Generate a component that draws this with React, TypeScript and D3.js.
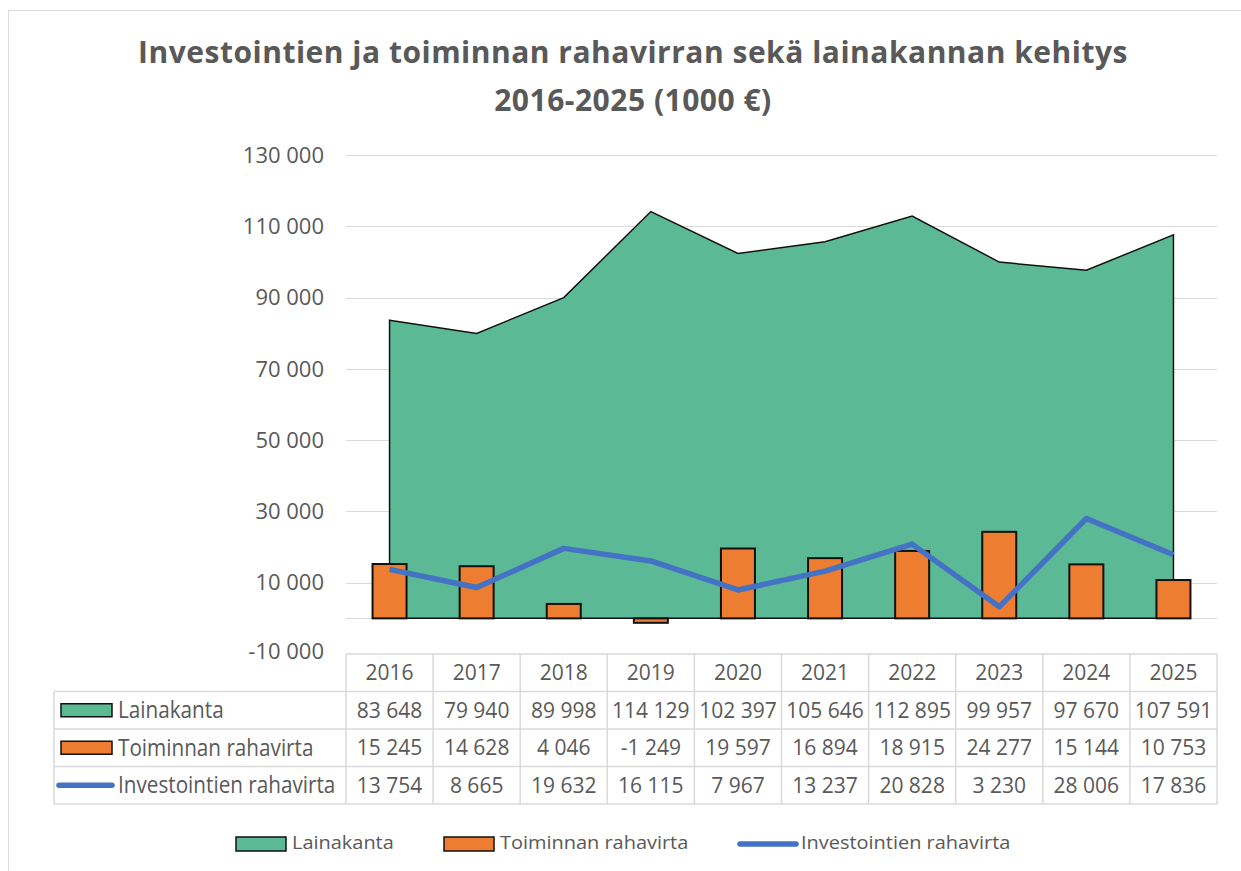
import React, { useEffect, useRef } from "react";
import * as d3 from "d3";

const years = ["2016", "2017", "2018", "2019", "2020", "2021", "2022", "2023", "2024", "2025"];
const lainakanta = [83648, 79940, 89998, 114129, 102397, 105646, 112895, 99957, 97670, 107591];
const toiminnan = [15245, 14628, 4046, -1249, 19597, 16894, 18915, 24277, 15144, 10753];
const investointien = [13754, 8665, 19632, 16115, 7967, 13237, 20828, 3230, 28006, 17836];
const yTicks = [-10000, 10000, 30000, 50000, 70000, 90000, 110000, 130000];
const seriesNames = ["Lainakanta", "Toiminnan rahavirta", "Investointien rahavirta"];
const titleLines = [
  "Investointien ja toiminnan rahavirran sekä lainakannan kehitys",
  "2016-2025 (1000 €)",
];

const GREEN = "#5cb996";
const ORANGE = "#ed7d31";
const BLUE = "#4472c4";
const GRID = "#d9d9d9";
const TEXT = "#595959";
const FONT = "'Open Sans', sans-serif";

const App = () => {
  const svgRef = useRef(null);

  useEffect(() => {
    const svg = d3.select(svgRef.current);
    svg.selectAll("*").remove();

    const left = 346, right = 1217, top = 155, bottom = 654;
    const rowH = 37.5;

    const fmt = d3
      .formatLocale({ decimal: ",", thousands: " ", grouping: [3], currency: ["", ""], minus: "-" })
      .format(",d");

    const x = d3.scaleBand().domain(years).range([left, right]);
    const y = d3.scaleLinear().domain([-10000, 130000]).range([bottom, top]);
    const cx = (d) => x(d) + x.bandwidth() / 2;

    // chart frame
    svg.append("rect")
      .attr("x", 8.5).attr("y", 10.5).attr("width", 1240).attr("height", 870)
      .attr("fill", "white").attr("stroke", GRID);

    // title
    svg.append("g")
      .selectAll("text")
      .data(titleLines)
      .join("text")
      .attr("x", 633)
      .attr("y", (d, i) => 63 + i * 48)
      .attr("text-anchor", "middle")
      .attr("font-family", FONT)
      .attr("font-weight", 700)
      .attr("font-size", 30)
      .attr("letter-spacing", 0.5)
      .attr("fill", TEXT)
      .text((d) => d);

    // gridlines and y labels
    const grid = svg.append("g");
    grid.selectAll("line")
      .data(yTicks.filter((t) => t > -10000))
      .join("line")
      .attr("x1", left).attr("x2", right)
      .attr("y1", (d) => Math.round(y(d)) + 0.5)
      .attr("y2", (d) => Math.round(y(d)) + 0.5)
      .attr("stroke", GRID).attr("stroke-width", 1.2);
    grid.append("line")
      .attr("x1", left).attr("x2", right)
      .attr("y1", Math.round(y(0)) + 0.5).attr("y2", Math.round(y(0)) + 0.5)
      .attr("stroke", GRID).attr("stroke-width", 1.2);
    grid.selectAll("text")
      .data(yTicks)
      .join("text")
      .attr("x", 324)
      .attr("y", (d) => (d === -10000 ? y(d) - 3 : y(d)))
      .attr("dy", "0.35em")
      .attr("text-anchor", "end")
      .attr("font-family", FONT)
      .attr("font-size", 22)
      .attr("fill", TEXT)
      .text((d) => fmt(d));

    // area
    const area = d3.area()
      .x((d, i) => cx(years[i]))
      .y0(y(0))
      .y1((d) => y(d));
    svg.append("path")
      .datum(lainakanta)
      .attr("d", area)
      .attr("fill", GREEN)
      .attr("stroke", "#111")
      .attr("stroke-width", 1.5);

    // bars
    const bw = 34;
    svg.append("g")
      .selectAll("rect")
      .data(toiminnan)
      .join("rect")
      .attr("x", (d, i) => cx(years[i]) - bw / 2)
      .attr("y", (d) => y(Math.max(0, d)))
      .attr("width", bw)
      .attr("height", (d) => Math.abs(y(d) - y(0)))
      .attr("fill", ORANGE)
      .attr("stroke", "#111")
      .attr("stroke-width", 2);

    // line
    const line = d3.line().x((d, i) => cx(years[i])).y((d) => y(d));
    svg.append("path")
      .datum(investointien)
      .attr("d", line)
      .attr("fill", "none")
      .attr("stroke", BLUE)
      .attr("stroke-width", 5.5)
      .attr("stroke-linejoin", "round");

    // data table
    const tbl = svg.append("g").attr("stroke", GRID).attr("stroke-width", 1.5);
    const tableLeft = 54;
    const rowsY = d3.range(5).map((i) => bottom + i * rowH);
    tbl.append("line").attr("x1", left).attr("x2", right).attr("y1", rowsY[0]).attr("y2", rowsY[0]);
    rowsY.slice(1).forEach((ry) => {
      tbl.append("line").attr("x1", tableLeft).attr("x2", right).attr("y1", ry).attr("y2", ry);
    });
    tbl.append("line").attr("x1", tableLeft).attr("x2", tableLeft).attr("y1", rowsY[1]).attr("y2", rowsY[4]);
    [...years.map((d) => x(d)), right].forEach((vx) => {
      tbl.append("line").attr("x1", vx).attr("x2", vx).attr("y1", rowsY[0]).attr("y2", rowsY[4]);
    });

    const cellText = (g, txt, tx, ty) =>
      g.append("text")
        .attr("x", tx).attr("y", ty).attr("dy", "0.35em")
        .attr("text-anchor", "middle")
        .attr("font-family", FONT).attr("font-size", 21).attr("fill", TEXT)
        .text(txt);

    const tg = svg.append("g");
    years.forEach((yr) => cellText(tg, yr, cx(yr), rowsY[0] + rowH / 2));
    [lainakanta, toiminnan, investointien].forEach((vals, r) => {
      vals.forEach((v, i) => cellText(tg, fmt(v), cx(years[i]), rowsY[r + 1] + rowH / 2));
    });

    // legend keys (table + bottom legend)
    const drawKey = (g, idx, kx, ky, w, h) => {
      if (idx === 2) {
        g.append("line")
          .attr("x1", kx).attr("x2", kx + w).attr("y1", ky).attr("y2", ky)
          .attr("stroke", BLUE).attr("stroke-width", 5.5).attr("stroke-linecap", "round");
      } else {
        g.append("rect")
          .attr("x", kx).attr("y", ky - h / 2).attr("width", w).attr("height", h)
          .attr("fill", idx === 0 ? GREEN : ORANGE)
          .attr("stroke", "#111").attr("stroke-width", 1.5);
      }
    };
    const label = (g, txt, tx, ty, size, sx) =>
      g.append("text")
        .attr("transform", `translate(${tx},${ty}) scale(${sx},1)`)
        .attr("dy", "0.35em")
        .attr("font-family", FONT).attr("font-size", size).attr("fill", TEXT)
        .text(txt);

    const lg = svg.append("g");
    seriesNames.forEach((name, r) => {
      const ry = rowsY[r + 1] + rowH / 2;
      drawKey(lg, r, r === 2 ? 59 : 61, ry, r === 2 ? 53 : 51, 13);
      label(lg, name, 118, ry, 23, 0.9);
    });

    const legendX = [236, 444, 740];
    seriesNames.forEach((name, r) => {
      drawKey(lg, r, legendX[r], 844, r === 2 ? 56 : 50, 14);
      label(lg, name, legendX[r] + (r === 2 ? 61 : 56), 842, 19, 1.05);
    });
  }, []);

  return (
    <svg
      ref={svgRef}
      width={1241}
      height={871}
      style={{ position: "absolute", left: 0, top: 0 }}
    ></svg>
  );
};

export default App;
